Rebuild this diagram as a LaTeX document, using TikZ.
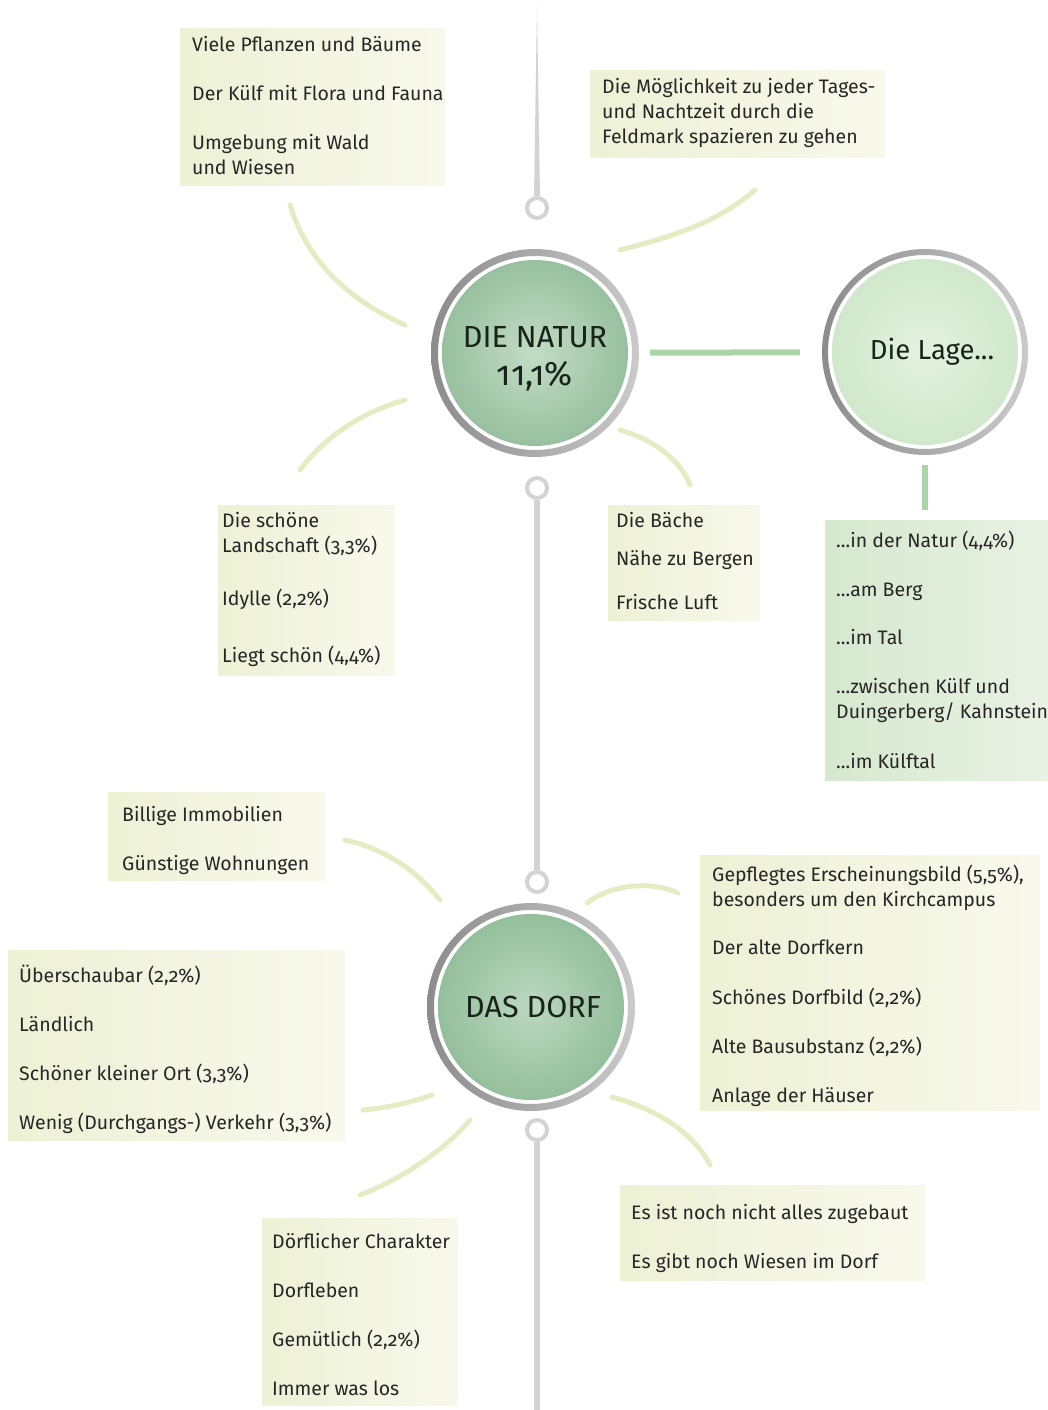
\documentclass[tikz,border=0pt]{standalone}
\usepackage{fontspec}
\setmainfont{Fira Sans}[Numbers=OldStyle]

\definecolor{ink}{HTML}{262626}
\definecolor{hubink}{HTML}{18241A}
\definecolor{spinegray}{HTML}{D3D3D3}
\definecolor{ringdark}{HTML}{8C8C8C}
\definecolor{ringlight}{HTML}{CACACA}
\definecolor{naturin}{HTML}{C3DCC6}
\definecolor{naturout}{HTML}{98C09F}
\definecolor{dorfin}{HTML}{BCD8C0}
\definecolor{dorfout}{HTML}{94BF9C}
\definecolor{lagein}{HTML}{E4F2E0}
\definecolor{lageout}{HTML}{D0E8CB}
\definecolor{stemgreen}{HTML}{AAD5A6}
\definecolor{raycol}{HTML}{E5ECC3}
\definecolor{panelA}{HTML}{EDF1D5}
\definecolor{panelB}{HTML}{F8F9EC}
\definecolor{lagepanelA}{HTML}{D6E8CF}
\definecolor{lagepanelB}{HTML}{E9F2E4}

\newcommand\leaffont{\fontsize{19.5}{25}\selectfont}
\newcommand\hubfont{\fontsize{30.5}{36}\selectfont}
\newcommand\lagefont{\fontsize{27.5}{32}\selectfont}

\begin{document}
\begin{tikzpicture}[x=1pt, y=-1pt,
	hub/.style={circle, minimum size=186pt, inner sep=0pt, align=center, text=hubink},
	eyelet/.style={circle, draw=spinegray, line width=4pt, fill=white, minimum size=20pt, inner sep=0pt},
	spine/.style={draw=spinegray, line width=6pt},
	stem/.style={draw=stemgreen, line width=6pt},
	ray/.style={draw=raycol, line width=5pt, line cap=round},
	ring/.style={left color=ringdark, right color=ringlight, even odd rule},
	panel/.style={anchor=north west, inner sep=0pt, left color=panelA, right color=panelB},
	leaf/.style={anchor=north west, align=left, inner sep=0pt, font=\leaffont, text=ink}]

			\useasboundingbox (0,0) rectangle (1048,1410);

			% Rays around the two hubs
			\draw[ray] (290,205) .. controls (310,270) and (360,305) .. (405,325);
			\draw[ray] (620,250) .. controls (680,235) and (720,220) .. (755,190);
			\draw[ray] (300,470) .. controls (330,430) and (370,410) .. (405,400);
			\draw[ray] (620,430) .. controls (655,440) and (680,460) .. (690,485);
			\draw[ray] (345,840) .. controls (390,850) and (420,875) .. (440,900);
			\draw[ray] (587,903) .. controls (610,885) and (650,880) .. (678,893);
			\draw[ray] (363,1110) .. controls (385,1108) and (410,1103) .. (432,1095);
			\draw[ray] (360,1195) .. controls (400,1180) and (445,1150) .. (470,1120);
			\draw[ray] (612,1097) .. controls (660,1110) and (695,1135) .. (710,1165);

			% Spine with eyelets
			\node[eyelet] (ringA) at (537,208) {};
			\node[eyelet] (ringB) at (537,488) {};
			\node[eyelet] (ringC) at (537,882) {};
			\node[eyelet] (ringD) at (537,1130) {};
			\coordinate (tip) at (537,6);
			\coordinate (foot) at (537,1414);
			\fill[spinegray] (tip) -- ([xshift=3pt]ringA.north) -- ([xshift=-3pt]ringA.north) -- cycle;
			\draw[spine] (ringB) -- (ringC);
			\draw[spine] (ringD) -- (foot);

			% Hubs
			\node[hub, font=\hubfont, inner color=naturin, outer color=naturout] (natur) at (535,353)
				{\rule{0pt}{32pt}DIE NATUR\\[2pt]{\fontsize{34}{36}\selectfont 11,1\%}};
			\shade[ring] (natur.center) circle (104pt) (natur.center) circle (97pt);

			\node[hub, font=\lagefont, inner color=lagein, outer color=lageout] (lage) at (925,352) {\hspace*{14pt}Die Lage...};
			\shade[ring] (lage.center) circle (103pt) (lage.center) circle (97pt);

			\node[hub, font=\hubfont, inner color=dorfin, outer color=dorfout] (dorf) at (531,1007) {\hspace*{4pt}DAS DORF};
			\shade[ring] (dorf.center) circle (104pt) (dorf.center) circle (97pt);

			% Panels of the Natur hub
			\node[panel, minimum width=265pt, minimum height=157pt] (kulfbox) at (180,28) {};
			\node[leaf] (kulf) at ([shift={(12pt,-6pt)}]kulfbox.north west)
				{\strut Viele Pflanzen und Bäume\\[24pt] Der Külf mit Flora und Fauna\\[24pt] Umgebung mit Wald\\ und Wiesen};

			\node[panel, minimum width=295pt, minimum height=87pt] (feldbox) at (590,70) {};
			\node[leaf] (feld) at ([shift={(12pt,-6pt)}]feldbox.north west)
				{\strut Die Möglichkeit zu jeder Tages-\\ und Nachtzeit durch die\\ Feldmark spazieren zu gehen};

			\node[panel, minimum width=177pt, minimum height=170pt] (landbox) at (218,505) {};
			\node[leaf] (land) at ([shift={(4pt,-5pt)}]landbox.north west)
				{\strut Die schöne\\ Landschaft (3,3\%)\\[28pt] Idylle (2,2\%)\\[32pt] Liegt schön (4,4\%)};

			\node[panel, minimum width=152pt, minimum height=115pt] (bachbox) at (608,505) {};
			\node[leaf] (bach) at ([shift={(8pt,-5pt)}]bachbox.north west)
				{\strut Die Bäche\\[13pt] Nähe zu Bergen\\[19pt] Frische Luft};

			% Die Lage
			\node[panel, left color=lagepanelA, right color=lagepanelB, minimum width=223pt, minimum height=260pt] (lagebox) at (825,520) {};
			\node[leaf] (lagetext) at ([shift={(11pt,-10pt)}]lagebox.north west)
				{\strut ...in der Natur (4,4\%)\\[24pt] ...am Berg\\[23pt] ...im Tal\\[24pt] ...zwischen Külf und\\ Duingerberg/ Kahnstein\\[25pt] ...im Külftal};

			\draw[stem, shorten <=22pt, shorten >=32pt] (natur) -- (lage);
			\draw[stem, shorten <=20pt, shorten >=10pt] (lage) -- (lage |- lagebox.north);

			% Panels of the Dorf hub
			\node[panel, minimum width=217pt, minimum height=88pt] (preisbox) at (108,792) {};
			\node[leaf] (preis) at ([shift={(14pt,-12pt)}]preisbox.north west)
				{\strut Billige Immobilien\\[24pt] Günstige Wohnungen};

			\node[panel, minimum width=337pt, minimum height=190pt] (ortbox) at (8,950) {};
			\node[leaf] (ort) at ([shift={(11pt,-15pt)}]ortbox.north west)
				{\strut Überschaubar (2,2\%)\\[24pt] Ländlich\\[24pt] Schöner kleiner Ort (3,3\%)\\[24pt] Wenig (Durchgangs-) Verkehr (3,3\%)};

			\node[panel, minimum width=340pt, minimum height=255pt] (bildbox) at (700,855) {};
			\node[leaf] (bild) at ([shift={(12pt,-9pt)}]bildbox.north west)
				{\strut Gepflegtes Erscheinungsbild (5,5\%),\\ besonders um den Kirchcampus\\[23pt] Der alte Dorfkern\\[25pt] Schönes Dorfbild (2,2\%)\\[24pt] Alte Bausubstanz (2,2\%)\\[24pt] Anlage der Häuser};

			\node[panel, minimum width=305pt, minimum height=95pt] (wiesebox) at (620,1185) {};
			\node[leaf] (wiese) at ([shift={(11pt,-17pt)}]wiesebox.north west)
				{\strut Es ist noch nicht alles zugebaut\\[24pt] Es gibt noch Wiesen im Dorf};

			\node[panel, minimum width=196pt, minimum height=187pt] (lebenbox) at (262,1218) {};
			\node[leaf] (leben) at ([shift={(10pt,-13pt)}]lebenbox.north west)
				{\strut Dörflicher Charakter\\[24pt] Dorfleben\\[24pt] Gemütlich (2,2\%)\\[24pt] Immer was los};

		\end{tikzpicture}
\end{document}
